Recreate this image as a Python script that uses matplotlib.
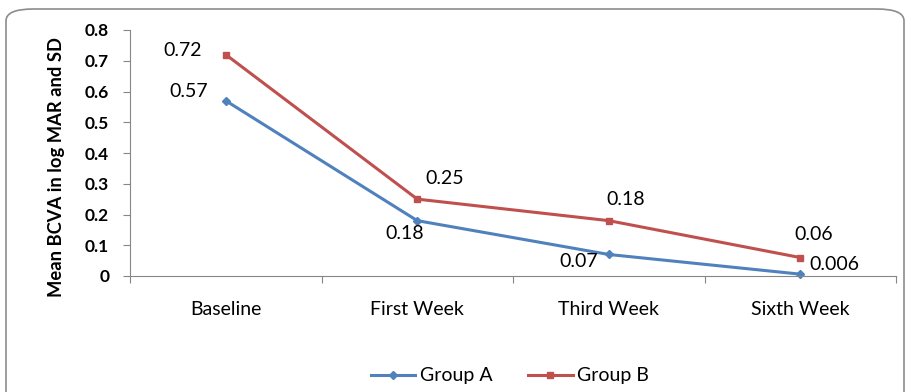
import matplotlib.pyplot as plt
from matplotlib.patches import FancyBboxPatch

categories = ["Baseline", "First Week", "Third Week", "Sixth Week"]
group_a = [0.57, 0.18, 0.07, 0.006]
group_b = [0.72, 0.25, 0.18, 0.06]
labels_a = ["0.57", "0.18", "0.07", "0.006"]
labels_b = ["0.72", "0.25", "0.18", "0.06"]

BLUE = "#4F81BD"
RED = "#C0504D"
plt.rcParams['font.family'] = ['Lato', 'DejaVu Sans']

fig = plt.figure(figsize=(9.11, 3.92), dpi=100)

# outer chart frame (bottom edge runs off the picture)
frame = FancyBboxPatch((6 / 911, -0.2), 898 / 911, 1.2 - 9 / 392,
                       boxstyle="round,pad=0,rounding_size=0.03",
                       transform=fig.transFigure, facecolor="none",
                       edgecolor="#8c8c8c", linewidth=1.2, clip_on=False,
                       zorder=-1)
fig.patches.append(frame)

ax = fig.add_axes([130 / 911, 1 - 276 / 392, 766 / 911, 246 / 392])
ax.patch.set_alpha(0)
x = list(range(len(categories)))
ax.plot(x, group_a, color=BLUE, lw=2.2, marker="D", ms=4, label="Group A", clip_on=False)
ax.plot(x, group_b, color=RED, lw=2.2, marker="s", ms=5, label="Group B", clip_on=False)

ax.set_xlim(-0.5, len(categories) - 0.5)
ax.set_ylim(0, 0.8)
ax.set_yticks([i / 10 for i in range(9)])
ax.set_yticklabels(["0"] + ["%.1f" % (i / 10) for i in range(1, 9)],
                   fontsize=12.5, fontweight="bold")
ax.set_xticks([i - 0.5 for i in range(len(categories) + 1)])
ax.set_xticklabels([])
ax.set_xticks(x, minor=True)
ax.set_xticklabels(categories, minor=True, fontsize=14)
ax.tick_params(axis="x", which="minor", length=0, pad=18)
ax.tick_params(axis="x", which="major", length=5, color="#868686", direction="out")
ax.tick_params(axis="y", length=5, color="#868686", pad=10)
for s in ["top", "right"]:
    ax.spines[s].set_visible(False)
for s in ["left", "bottom"]:
    ax.spines[s].set_color("#868686")
ax.set_ylabel("Mean BCVA in log MAR and SD", fontsize=13.2, fontweight="bold")
ax.yaxis.set_label_coords(-0.085, 0.443)

# data labels (offsets in points)
offs_a = [(-27, 7), (-9, -9.6), (-21.6, -4.7), (24.5, 7.3)]
offs_b = [(-31, 2.6), (20, 15), (12, 15.5), (9.4, 16.5)]
for i in x:
    ax.annotate(labels_a[i], (i, group_a[i]), xytext=offs_a[i],
                textcoords="offset points", ha="center", va="center", fontsize=14)
    ax.annotate(labels_b[i], (i, group_b[i]), xytext=offs_b[i],
                textcoords="offset points", ha="center", va="center", fontsize=14)

fig.legend(loc="center", bbox_to_anchor=(510 / 911, 1 - 376 / 392), ncol=2,
           frameon=False, fontsize=14, handlelength=2.3, columnspacing=1.8,
           handletextpad=0.25)

fig.savefig("out.png", dpi=100)
